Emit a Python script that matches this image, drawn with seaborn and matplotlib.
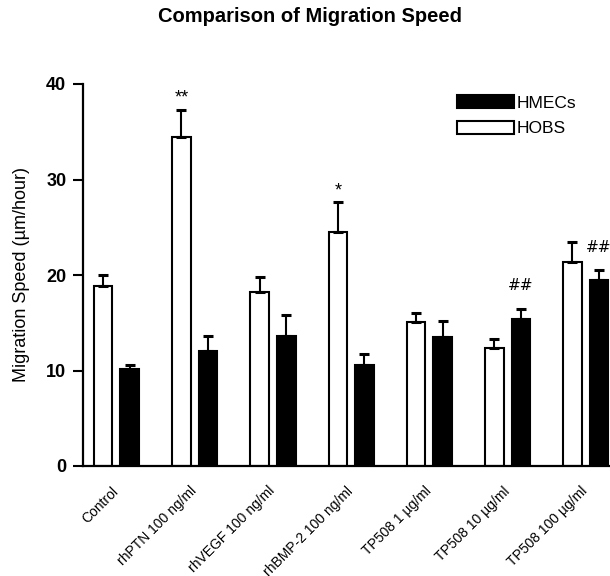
import matplotlib
matplotlib.use("Agg")
import matplotlib.pyplot as plt
import seaborn as sns
import pandas as pd
import numpy as np
from matplotlib.patches import Patch

# ---- data ----
categories = ["Control", "rhPTN 100 ng/ml", "rhVEGF 100 ng/ml", "rhBMP-2 100 ng/ml",
              "TP508 1 µg/ml", "TP508 10 µg/ml", "TP508 100 µg/ml"]
series = ["HOBS", "HMECs"]
hobs = [18.9, 34.5, 18.2, 24.5, 15.1, 12.4, 21.4]
hobs_err = [1.1, 2.8, 1.6, 3.1, 0.9, 0.9, 2.1]
hmecs = [10.15, 12.0, 13.6, 10.6, 13.5, 15.4, 19.5]
hmecs_err = [0.45, 1.6, 2.2, 1.1, 1.65, 1.05, 1.0]
yticks = [0, 10, 20, 30, 40]
annotations = [("rhPTN 100 ng/ml", "HOBS", "**"),
               ("rhBMP-2 100 ng/ml", "HOBS", "*"),
               ("TP508 10 µg/ml", "HMECs", "##"),
               ("TP508 100 µg/ml", "HMECs", "##")]
title = "Comparison of Migration Speed"
ylabel = "Migration Speed (µm/hour)"

df = pd.DataFrame({
    "category": categories * 2,
    "series": ["HOBS"] * len(categories) + ["HMECs"] * len(categories),
    "value": hobs + hmecs,
})
errs = {"HOBS": hobs_err, "HMECs": hmecs_err}
vals = {"HOBS": hobs, "HMECs": hmecs}

sns.set_style("white")
plt.rcParams["font.family"] = ["Liberation Sans", "DejaVu Sans"]
for k in ["text.color", "axes.labelcolor", "xtick.color", "ytick.color", "axes.edgecolor"]:
    plt.rcParams[k] = "black"

fig = plt.figure(figsize=(6.1, 5.76), dpi=100)
ax = fig.add_axes([83 / 610, 110 / 576, 527 / 610, 382 / 576])

sns.barplot(data=df, x="category", y="value", hue="series", order=categories,
            hue_order=series, palette={"HOBS": "white", "HMECs": "black"},
            edgecolor="black", linewidth=1.5, width=0.68, gap=0.30,
            errorbar=None, legend=False, ax=ax)

# error bars (upper only) placed on the library's bars
for s, cont in zip(series, ax.containers):
    xs = [b.get_x() + b.get_width() / 2 for b in cont]
    ys = [b.get_height() for b in cont]
    ax.errorbar(xs, ys, yerr=[np.zeros(len(ys)), errs[s]], fmt="none",
                ecolor="black", elinewidth=1.5, capsize=3.8, capthick=2.2, zorder=3)

# significance annotations
for cat, s, txt in annotations:
    i = categories.index(cat)
    cont = ax.containers[series.index(s)]
    b = cont[i]
    x = b.get_x() + b.get_width() / 2
    top = vals[s][i] + errs[s][i]
    if txt.startswith("#"):
        ax.text(x, top + 2.4, txt, ha="center", va="center", fontsize=11,
                fontfamily="DejaVu Sans", color="black", clip_on=False)
    else:
        ax.text(x, top + 1.2, txt, ha="center", va="center", fontsize=13,
                color="black", clip_on=False)

ax.set_xlim(-0.428, 6.31)
ax.set_ylim(0, 40)
ax.set_yticks(yticks)
ax.set_yticklabels([str(t) for t in yticks], fontsize=13, fontweight="bold")
ax.tick_params(axis="y", length=7, width=1.5, color="black", pad=5, left=True)
ax.tick_params(axis="x", length=0, pad=16.5)
ax.set_xticklabels(categories, rotation=45, ha="right", va="center",
                   rotation_mode="anchor", fontsize=10)
ax.set_xlabel("")
ax.set_ylabel(ylabel, fontsize=13, labelpad=12)

for sp in ["top", "right"]:
    ax.spines[sp].set_visible(False)
for sp in ["left", "bottom"]:
    ax.spines[sp].set_color("black")
    ax.spines[sp].set_linewidth(1.6)

# legend
handles = [Patch(facecolor="black", edgecolor="black", linewidth=1.5, label="HMECs"),
           Patch(facecolor="white", edgecolor="black", linewidth=1.5, label="HOBS")]
fig.legend(handles=handles, loc="upper left", bbox_to_anchor=(457 / 610, 1 - 95 / 576),
           frameon=False, fontsize=12.5, handlelength=3.3, handleheight=0.8,
           handletextpad=0.15, labelspacing=0.58, borderpad=0, borderaxespad=0)

fig.text(310 / 610, 1 - 17 / 576, title, ha="center", va="center",
         fontsize=14.5, fontweight="bold", color="black")

fig.savefig("out.png", dpi=100)
